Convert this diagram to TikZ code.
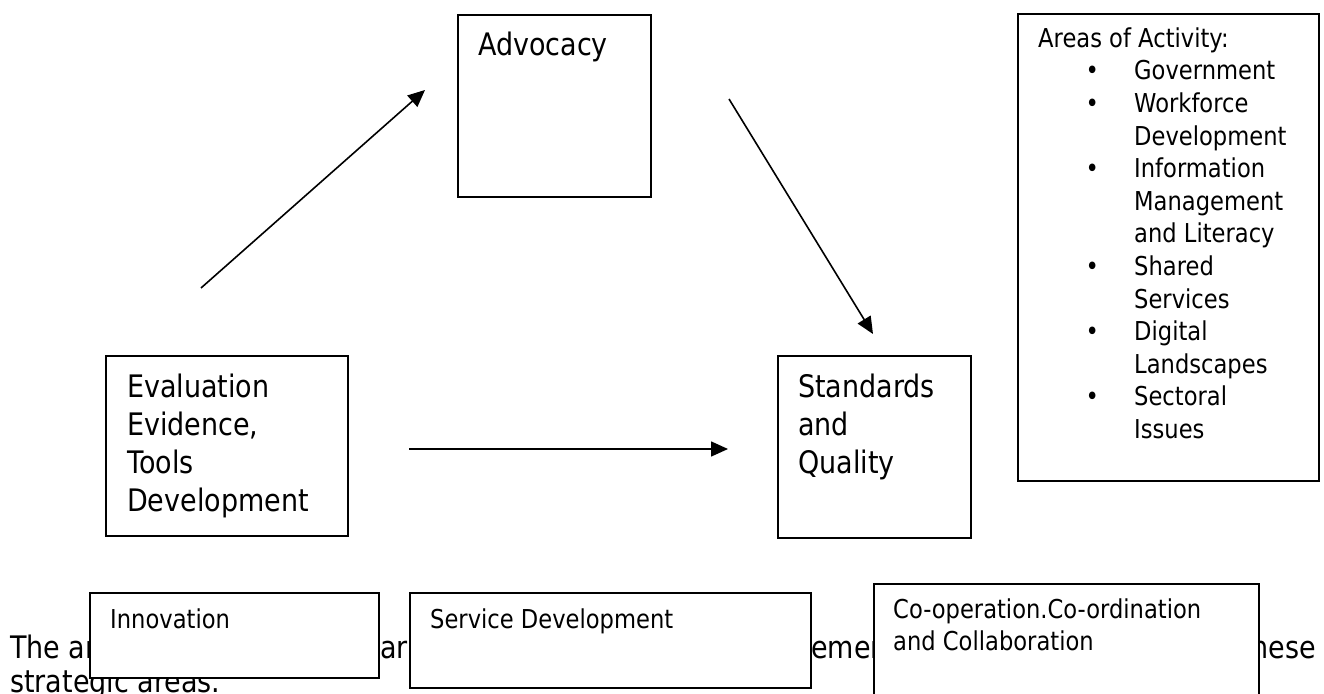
\documentclass[tikz,border=0pt]{standalone}
\usepackage{fontspec}
\setmainfont{DejaVu Sans}[FakeStretch=0.87]
\usetikzlibrary{arrows.meta}
\newcommand\tstrutL{\rule{0pt}{25bp}}
\newcommand\tstrutS{\rule{0pt}{21bp}}
\newcommand\blt{\makebox[96bp][l]{\hspace*{54bp}\makebox[0pt]{\textbullet}}}
\newcommand\cnt{\hspace*{96bp}}
\begin{document}
\begin{tikzpicture}[x=1bp,y=-1bp,
  box/.style={draw=black, line width=1.8bp, fill=white, rectangle, inner sep=0pt, anchor=north west},
  bigtxt/.style={font=\fontsize{31bp}{38bp}\selectfont, align=left, inner sep=0pt, anchor=north west},
  smalltxt/.style={font=\fontsize{26bp}{32.6bp}\selectfont, align=left, inner sep=0pt, anchor=north west},
  paratxt/.style={font=\fontsize{31bp}{38bp}\selectfont, inner sep=0pt},
  arr/.style={line width=1.6bp, -{Triangle[length=17bp,width=15bp]}}]
\useasboundingbox (0,0) rectangle (1324,693);
% paragraph fragments (partly covered by boxes)
\node[paratxt, anchor=base west] (p1) at (10,658) {The ar};
\node[paratxt, anchor=base east] (p2) at (408,658) {har};
\node[paratxt, anchor=base west] (p3) at (811,658) {emen};
\node[paratxt, anchor=base east] (p4) at (1316,658) {hese};
\node[paratxt, anchor=base west] (p5) at (10,692) {strategic areas.};
% main boxes
\node[box, minimum width=193bp, minimum height=182bp] (adv) at (457,14) {};
\node[bigtxt] (advT) at (478,30) {\tstrutL Advocacy};
\node[box, minimum width=242bp, minimum height=180bp] (eval) at (105,355) {};
\node[bigtxt] (evalT) at (127,372) {\tstrutL Evaluation\\Evidence,\\Tools\\Development};
\node[box, minimum width=193bp, minimum height=182bp] (std) at (777,355) {};
\node[bigtxt] (stdT) at (798,372) {\tstrutL Standards\\and\\Quality};
% areas of activity
\node[box, minimum width=301bp, minimum height=467bp] (areas) at (1017,13) {};
\node[smalltxt] (areasT) at (1038,26) {\tstrutS Areas of Activity:\\
\blt Government\\
\blt Workforce\\
\cnt Development\\
\blt Information\\
\cnt Management\\
\cnt and Literacy\\
\blt Shared\\
\cnt Services\\
\blt Digital\\
\cnt Landscapes\\
\blt Sectoral\\
\cnt Issues};
% bottom boxes
\node[box, minimum width=289bp, minimum height=85bp] (inn) at (89,592) {};
\node[smalltxt] (innT) at (110,607) {\tstrutS Innovation};
\node[box, minimum width=401bp, minimum height=95bp] (serv) at (409,592) {};
\node[smalltxt] (servT) at (430,607) {\tstrutS Service Development};
\node[box, minimum width=385bp, minimum height=130bp] (coop) at (873,583) {};
\node[smalltxt, font=\fontsize{26bp}{32bp}\selectfont] (coopT) at (893,597) {\tstrutS Co-operation.Co-ordination\\and Collaboration};
% arrows
\coordinate (a1s) at (201,288);
\coordinate (a1e) at (425,90);
\coordinate (a2s) at (729,99);
\coordinate (a2e) at (873,334);
\coordinate (a3s) at (409,449);
\coordinate (a3e) at (728,449);
\draw[arr] (a1s) -- (a1e);
\draw[arr] (a2s) -- (a2e);
\draw[arr] (a3s) -- (a3e);
\end{tikzpicture}
\end{document}
